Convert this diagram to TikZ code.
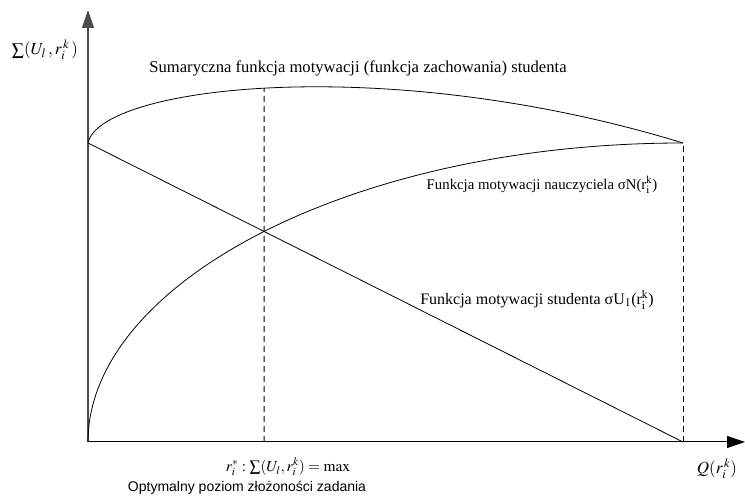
\documentclass[tikz,border=0pt]{standalone}
\usepackage{mathptmx}
\usepackage{fontspec}
\setmainfont{Liberation Serif}
\newfontfamily\arialfont{Liberation Sans}
\usetikzlibrary{calc}
\usetikzlibrary{arrows.meta}
\usetikzlibrary{intersections}

\begin{document}
\begin{tikzpicture} [x=1pt, y=1pt, >={Triangle[length=18pt,width=12pt]}, curve/.style={black, line width=.8pt}, guide/.style={black, line width=1pt, dash pattern=on 6pt off 4pt}, lab/.style={font=\fontsize{15.4}{17}\selectfont, inner sep=0}, mlab/.style={font=\fontsize{17}{19}\selectfont, inner sep=0}]
\useasboundingbox (-88,-55) rectangle (657,442);
\coordinate (O) at (0,0);
\coordinate (A) at (0,299);
\coordinate (B) at (595,0);
\coordinate (C) at (595,299);
\draw[black!70, line width=1.2pt, ->] (O)--(0,432);
\draw[black, line width=1pt, ->] (O)--(657,0);
\draw[curve, name path=nauczyciel] (O) .. controls (0,158) and (262,299) .. (C);
\draw[curve, name path=student] (A)--(B);
\draw[curve, name path=suma] (A) .. controls (12,356) and (298,390) .. (C);
\path[name intersections={of=nauczyciel and student, by=X}];
\path[name path=pion] (X |- O) -- ++(0,440);
\path[name intersections={of=pion and suma, by=P}];
\draw[guide] (X |- O) -- (P);
\draw[guide] (B) -- (C);
\node[mlab] (sumy) at (-43,392) {$\sum(U_l\,, r_i^{\,k}\,)$};
\node[mlab] (q) at (629,-27) {$Q(r_i^{\,k})$};
\node[lab] (opt) at (200,-25) {$r_i^*:\sum(U_l,r_i^k)=\mathrm{max}$};
\node[lab, font=\arialfont\fontsize{14}{16}\selectfont] (opis) at (159,-46) {Optymalny poziom złożoności zadania};
\node[lab, font=\fontsize{16.6}{18}\selectfont] (fsuma) at (270,374) {Sumaryczna funkcja motywacji (funkcja zachowania) studenta};
\node[lab, font=\fontsize{14.8}{17}\selectfont] (fnau) at (454,257) {Funkcja motywacji nauczyciela σN(r$_{\mathrm{i}}^{\mathrm{k}}$)};
\node[lab, font=\fontsize{16}{18}\selectfont] (fstu) at (449,142) {Funkcja motywacji studenta σU$_1$(r$_{\mathrm{i}}^{\mathrm{k}}$)};
\end{tikzpicture}
\end{document}
